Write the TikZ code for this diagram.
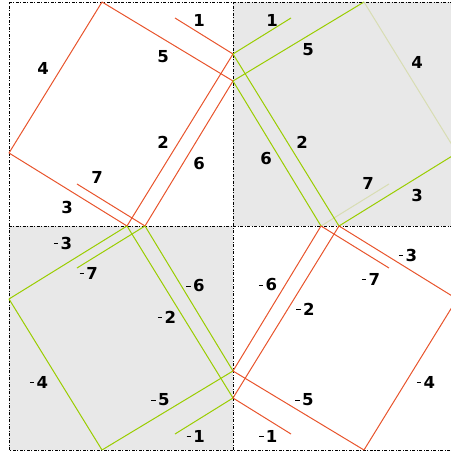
\documentclass[tikz,border=0pt]{standalone}
\usepackage{fontspec}
\setmainfont{DejaVu Sans}
\definecolor{lineor}{HTML}{E8542C}
\definecolor{linegr}{HTML}{9ACD00}
\definecolor{linefaint}{HTML}{D8DDB3}
\definecolor{quadgrey}{HTML}{E8E8E8}
\newcommand\neglbl[1]{\rule[4.9pt]{4.3pt}{1.2pt}\hspace{2.3pt}#1}
\newcommand\quadgeom{%
  \coordinate (T) at (-131,224);
  \coordinate (L) at (-224,73);
  \coordinate (C) at (-106,0);
  \coordinate (D) at (-88,0);
  \coordinate (A) at (0,172);
  \coordinate (B) at (0,145);
  \coordinate (P1) at (-58,208);
  \coordinate (P7) at (-156,42);
  \draw[edge] (T) -- (B);
  \draw[edge] (P1) -- (A);
  \draw[edge,lfour] (T) -- (L);
  \draw[edge] (L) -- (C);
  \draw[edge,lseven] (P7) -- (D);
  \draw[edge] (A) -- (C);
  \draw[edge] (B) -- (D);
}
\tikzset{
  frame/.style={black, line width=0.6pt, dash pattern=on 3pt off 1.5pt on 1pt off 1.5pt},
  edge/.style={line width=1pt},
  lfour/.style={},
  lseven/.style={},
  lbl/.style={font=\bfseries\fontsize{16.5}{17}\selectfont, inner sep=0pt, text=black},
}
\begin{document}
\begin{tikzpicture}[x=1pt,y=1pt]
\useasboundingbox (-233,-229) rectangle (217,226);
% grey quadrants
\fill[quadgrey] (0,0) rectangle (224,224);
\fill[quadgrey] (-224,-224) rectangle (0,0);
% frame
\draw[frame] (-224,-224) rectangle (224,224);
\draw[frame] (0,-224) -- (0,224);
\draw[frame] (-224,0) -- (224,0);
% quadrants
\begin{scope}[color=lineor]
  \quadgeom
\end{scope}
\begin{scope}[color=linegr, xscale=-1, lfour/.style={draw=linefaint}, lseven/.style={draw=linefaint}]
  \quadgeom
\end{scope}
\begin{scope}[color=linegr, yscale=-1]
  \quadgeom
\end{scope}
\begin{scope}[color=lineor, scale=-1]
  \quadgeom
\end{scope}
% labels top-left
\node[lbl] (tl1) at (-34,206) {1};
\node[lbl] (tl5) at (-70,169) {5};
\node[lbl] (tl4) at (-190,158) {4};
\node[lbl] (tl2) at (-70,84) {2};
\node[lbl] (tl6) at (-34,62) {6};
\node[lbl] (tl7) at (-136,49) {7};
\node[lbl] (tl3) at (-166,19) {3};
% labels top-right
\node[lbl] (tr1) at (39,206) {1};
\node[lbl] (tr5) at (75,176) {5};
\node[lbl] (tr4) at (184,164) {4};
\node[lbl] (tr2) at (69,84) {2};
\node[lbl] (tr6) at (33,67) {6};
\node[lbl] (tr7) at (135,43) {7};
\node[lbl] (tr3) at (184,31) {3};
% labels bottom-left
\node[lbl] (bl3) at (-170,-17) {\neglbl{3}};
\node[lbl] (bl7) at (-144.3,-47) {\neglbl{7}};
\node[lbl] (bl6) at (-37.5,-60) {\neglbl{6}};
\node[lbl] (bl2) at (-66,-91) {\neglbl{2}};
\node[lbl] (bl4) at (-194,-156) {\neglbl{4}};
\node[lbl] (bl5) at (-72.5,-174) {\neglbl{5}};
\node[lbl] (bl1) at (-37.3,-210) {\neglbl{1}};
% labels bottom-right
\node[lbl] (br3) at (175,-29) {\neglbl{3}};
\node[lbl] (br7) at (138,-53) {\neglbl{7}};
\node[lbl] (br6) at (35,-59) {\neglbl{6}};
\node[lbl] (br2) at (72.5,-83) {\neglbl{2}};
\node[lbl] (br4) at (193,-156) {\neglbl{4}};
\node[lbl] (br5) at (71.5,-174) {\neglbl{5}};
\node[lbl] (br1) at (35.3,-210) {\neglbl{1}};
\end{tikzpicture}
\end{document}
